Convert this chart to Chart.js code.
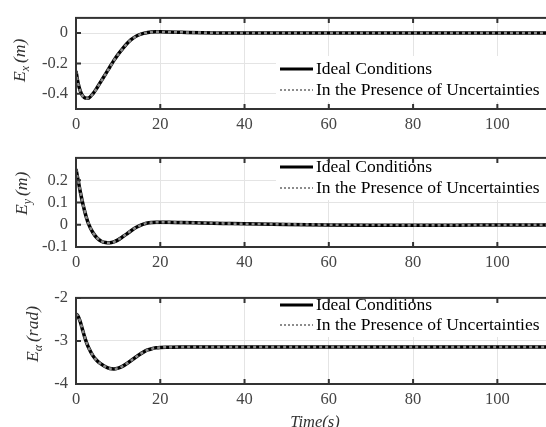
<!DOCTYPE html>
<html>
<head>
<meta charset="utf-8">
<script src="https://cdn.jsdelivr.net/npm/chart.js@4.4.0/dist/chart.umd.min.js"></script>
<style>
html, body { margin: 0; padding: 0; background: #fff; width: 546px; height: 427px; overflow: hidden; }
.panel { position: absolute; left: 0; width: 600px; }
</style>
</head>
<body>
<div class="panel" style="top:0px;height:140px"><canvas id="c1" width="600" height="140"></canvas></div>
<div class="panel" style="top:140px;height:140px"><canvas id="c2" width="600" height="140"></canvas></div>
<div class="panel" style="top:280px;height:147px"><canvas id="c3" width="600" height="147"></canvas></div>
<script>
// time samples (s)
const time = [0, 0.5, 1, 1.5, 2, 2.5, 3, 4, 5, 6, 7, 8, 9, 10, 11, 12, 13, 14, 15, 16, 17, 18, 19, 20, 22, 25, 30, 35, 40, 50, 60, 70, 80, 90, 100, 110, 120];

// E_x (m)
const exIdeal = [-0.25, -0.33, -0.38, -0.41, -0.425, -0.43, -0.428, -0.40, -0.36, -0.315, -0.27, -0.225, -0.18, -0.14, -0.105, -0.072, -0.045, -0.025, -0.011, -0.002, 0.004, 0.007, 0.008, 0.008, 0.007, 0.005, 0.002, 0.001, 0, 0, 0, 0, 0, 0, 0, 0, 0];
const exUncert = [-0.25, -0.331, -0.381, -0.411, -0.426, -0.431, -0.429, -0.401, -0.361, -0.316, -0.271, -0.226, -0.181, -0.141, -0.106, -0.073, -0.046, -0.026, -0.012, -0.003, 0.003, 0.006, 0.008, 0.008, 0.007, 0.005, 0.003, 0.001, 0.001, 0, 0, 0, 0.001, 0, 0, 0, 0];

// E_y (m)
const eyIdeal = [0.25, 0.2, 0.15, 0.105, 0.065, 0.03, 0.003, -0.035, -0.06, -0.074, -0.08, -0.081, -0.077, -0.068, -0.055, -0.042, -0.028, -0.015, -0.005, 0.003, 0.008, 0.01, 0.011, 0.011, 0.011, 0.01, 0.008, 0.006, 0.004, 0.001, -0.001, -0.002, -0.002, -0.002, -0.001, -0.001, 0];
const eyUncert = [0.25, 0.201, 0.151, 0.106, 0.066, 0.031, 0.004, -0.034, -0.059, -0.074, -0.08, -0.081, -0.077, -0.068, -0.055, -0.042, -0.028, -0.015, -0.005, 0.003, 0.008, 0.01, 0.011, 0.011, 0.011, 0.01, 0.008, 0.006, 0.004, 0.002, 0, -0.001, -0.002, -0.002, -0.001, 0, 0];

// E_alpha (rad)
const eaIdeal = [-2.37, -2.43, -2.55, -2.72, -2.89, -3.04, -3.16, -3.34, -3.46, -3.54, -3.6, -3.64, -3.65, -3.63, -3.59, -3.53, -3.46, -3.39, -3.32, -3.26, -3.21, -3.18, -3.16, -3.15, -3.145, -3.14, -3.14, -3.14, -3.14, -3.14, -3.14, -3.14, -3.14, -3.14, -3.14, -3.14, -3.14];
const eaUncert = [-2.37, -2.43, -2.55, -2.72, -2.89, -3.04, -3.16, -3.34, -3.46, -3.54, -3.6, -3.64, -3.65, -3.63, -3.59, -3.53, -3.46, -3.39, -3.32, -3.26, -3.21, -3.18, -3.16, -3.15, -3.145, -3.14, -3.14, -3.14, -3.14, -3.14, -3.14, -3.14, -3.14, -3.14, -3.14, -3.14, -3.14];

const xTicks = [0, 20, 40, 60, 80, 100, 120];
const yTicks1 = [-0.4, -0.2, 0];
const yTicks2 = [-0.1, 0, 0.1, 0.2];
const yTicks3 = [-4, -3, -2];

const legendLabels = ['Ideal Conditions', 'In the Presence of Uncertainties'];

const SERIF = '"Liberation Serif", "DejaVu Serif", serif';

function pts(ys) {
    return time.map(function (t, i) { return { x: t, y: ys[i] }; });
}

// frame, inward ticks, legend and axis titles
const framePlugin = {
    id: 'frame',
    afterDraw(chart, args, opts) {
        const ctx = chart.ctx;
        const a = chart.chartArea;
        const xs = chart.scales.x, ys = chart.scales.y;
        ctx.save();

        // legend box
        const lg = opts.legend;
        ctx.fillStyle = '#fff';
        ctx.fillRect(276, lg.row1 - 13, 400, lg.row2 - lg.row1 + 25);
        ctx.lineCap = 'butt';
        ctx.strokeStyle = '#000';
        ctx.lineWidth = 3;
        ctx.setLineDash([]);
        ctx.beginPath(); ctx.moveTo(280, lg.row1); ctx.lineTo(313, lg.row1); ctx.stroke();
        ctx.strokeStyle = '#8c8c8c';
        ctx.lineWidth = 2;
        ctx.setLineDash([2, 2]);
        ctx.beginPath(); ctx.moveTo(280, lg.row2); ctx.lineTo(313, lg.row2); ctx.stroke();
        ctx.setLineDash([]);
        ctx.fillStyle = '#000';
        ctx.font = '17.5px ' + SERIF;
        ctx.textAlign = 'left';
        ctx.textBaseline = 'middle';
        ctx.fillText(legendLabels[0], 316, lg.row1);
        ctx.fillText(legendLabels[1], 316, lg.row2);

        // box
        ctx.strokeStyle = '#333';
        ctx.lineWidth = 2;
        ctx.strokeRect(a.left, a.top, a.right - a.left, a.bottom - a.top);

        // inward ticks
        ctx.beginPath();
        xs.ticks.forEach(function (t) {
            const px = xs.getPixelForValue(t.value);
            ctx.moveTo(px, a.bottom); ctx.lineTo(px, a.bottom - 5);
            ctx.moveTo(px, a.top); ctx.lineTo(px, a.top + 5);
        });
        ys.ticks.forEach(function (t) {
            const py = ys.getPixelForValue(t.value);
            ctx.moveTo(a.left, py); ctx.lineTo(a.left + 5, py);
        });
        ctx.stroke();

        // y title: E with subscript and unit, rotated
        const yt = opts.yTitle;
        ctx.translate(yt.x, yt.y);
        ctx.rotate(-Math.PI / 2);
        ctx.fillStyle = '#333';
        ctx.textBaseline = 'alphabetic';
        ctx.font = 'italic 17.5px ' + SERIF;
        ctx.fillText('E', 0, 0);
        let w = ctx.measureText('E').width;
        ctx.font = 'italic 12px ' + SERIF;
        ctx.fillText(yt.sub, w, 4);
        w += ctx.measureText(yt.sub).width + 3;
        ctx.font = 'italic 17.5px ' + SERIF;
        ctx.fillText(yt.unit, w, 0);
        ctx.setTransform(1, 0, 0, 1, 0, 0);

        if (opts.xTitle) {
            ctx.font = 'italic 16.5px ' + SERIF;
            ctx.fillStyle = '#333';
            ctx.textAlign = 'center';
            ctx.textBaseline = 'top';
            ctx.fillText(opts.xTitle, 315, 134);
        }
        ctx.restore();
    }
};

function makePanel(id, ideal, uncert, yMin, yMax, yTicks, cfg) {
    return new Chart(document.getElementById(id), {
        type: 'line',
        data: {
            datasets: [{
                label: legendLabels[0],
                data: pts(ideal),
                borderColor: '#000',
                borderWidth: 3.5,
                pointRadius: 0,
                cubicInterpolationMode: 'monotone',
                order: 1
            }, {
                label: legendLabels[1],
                data: pts(uncert),
                borderColor: '#8a8a8a',
                borderWidth: 2.5,
                borderDash: [3, 3],
                pointRadius: 0,
                cubicInterpolationMode: 'monotone',
                order: 0
            }]
        },
        options: {
            responsive: false,
            animation: false,
            layout: { padding: { top: cfg.padTop, right: 6, left: 0, bottom: 0 } },
            plugins: {
                legend: { display: false },
                tooltip: { enabled: false },
                frame: { legend: cfg.legend, yTitle: cfg.yTitle, xTitle: cfg.xTitle }
            },
            scales: {
                x: {
                    type: 'linear',
                    min: 0,
                    max: 120,
                    afterBuildTicks: function (s) { s.ticks = xTicks.map(function (v) { return { value: v }; }); },
                    afterFit: function (s) { s.height = cfg.xHeight; },
                    ticks: { color: '#444', padding: 6, maxRotation: 0, font: { family: SERIF, size: 16.5 } },
                    grid: { color: '#e4e4e4', lineWidth: 1, drawTicks: false },
                    border: { display: false }
                },
                y: {
                    min: yMin,
                    max: yMax,
                    afterBuildTicks: function (s) { s.ticks = yTicks.map(function (v) { return { value: v }; }); },
                    afterFit: function (s) { s.width = 76; },
                    ticks: { color: '#444', padding: 8, font: { family: SERIF, size: 16.5 },
                        callback: function (v) { return String(v); } },
                    grid: { color: '#e4e4e4', lineWidth: 1, drawTicks: false },
                    border: { display: false }
                }
            }
        },
        plugins: [framePlugin]
    });
}

makePanel('c1', exIdeal, exUncert, -0.5, 0.1, yTicks1, {
    padTop: 11, xHeight: 31,
    legend: { row1: 69, row2: 90 },
    yTitle: { x: 25, y: 82, sub: 'x', unit: '(m)' }
});
makePanel('c2', eyIdeal, eyUncert, -0.1, 0.3, yTicks2, {
    padTop: 9, xHeight: 33,
    legend: { row1: 27, row2: 48 },
    yTitle: { x: 27, y: 75, sub: 'y', unit: '(m)' }
});
makePanel('c3', eaIdeal, eaUncert, -4, -2, yTicks3, {
    padTop: 6, xHeight: 43,
    legend: { row1: 25, row2: 45 },
    yTitle: { x: 38, y: 82, sub: 'α', unit: '(rad)' },
    xTitle: 'Time(s)'
});
</script>
</body>
</html>
